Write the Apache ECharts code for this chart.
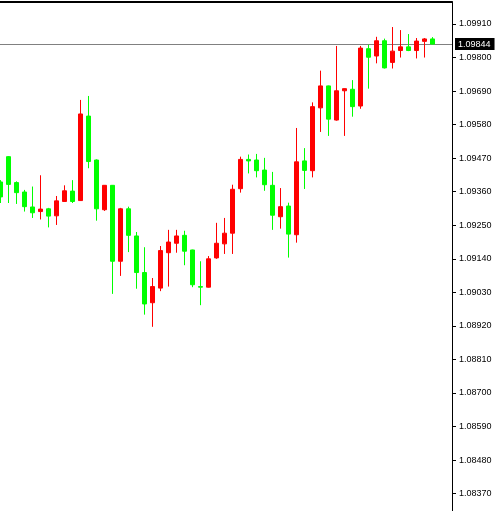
<!DOCTYPE html>
<html>
<head>
<meta charset="utf-8">
<script src="https://cdn.jsdelivr.net/npm/echarts@6/dist/echarts.min.js"></script>
<style>
html,body{margin:0;padding:0;background:#fff;}
#chart{width:500px;height:511px;}
</style>
</head>
<body>
<div id="chart"></div>
<script>
// bar slots (one per candle)
var categories = [];
for (var i = 0; i < 55; i++) categories.push(i);

var openValues = [1.09392, 1.09475, 1.09390, 1.09359, 1.09310, 1.09295, 1.09304, 1.09281, 1.09328, 1.09362,
  1.09331, 1.09608, 1.09464, 1.09301, 1.09381, 1.09132, 1.09304, 1.09215, 1.09095, 1.08996,
  1.09044, 1.09160, 1.09191, 1.09217, 1.09169, 1.09049, 1.09047, 1.09143, 1.09189, 1.09224,
  1.09370, 1.09466, 1.09464, 1.09431, 1.09381, 1.09278, 1.09313, 1.09219, 1.09461, 1.09429,
  1.09635, 1.09707, 1.09595, 1.09691, 1.09696, 1.09641, 1.09829, 1.09805, 1.09855, 1.09784,
  1.09823, 1.09835, 1.09823, 1.09853, 1.09861];

var closeValues = [1.09343, 1.09384, 1.09357, 1.09311, 1.09291, 1.09303, 1.09280, 1.09330, 1.09363, 1.09328,
  1.09615, 1.09459, 1.09304, 1.09381, 1.09132, 1.09304, 1.09217, 1.09095, 1.08992, 1.09049,
  1.09167, 1.09195, 1.09215, 1.09165, 1.09055, 1.09047, 1.09140, 1.09191, 1.09224, 1.09368,
  1.09466, 1.09461, 1.09429, 1.09383, 1.09283, 1.09311, 1.09221, 1.09458, 1.09430, 1.09639,
  1.09707, 1.09598, 1.09691, 1.09698, 1.09639, 1.09831, 1.09801, 1.09855, 1.09766, 1.09821,
  1.09835, 1.09823, 1.09854, 1.09861, 1.09844];

var lowValues = [1.09323, 1.09323, 1.09320, 1.09295, 1.09274, 1.09269, 1.09243, 1.09251, 1.09327, 1.09323,
  1.09330, 1.09437, 1.09265, 1.09297, 1.09025, 1.09084, 1.09162, 1.09042, 1.08957, 1.08917,
  1.09034, 1.09049, 1.09160, 1.09119, 1.09047, 1.08988, 1.09046, 1.09140, 1.09156, 1.09156,
  1.09357, 1.09420, 1.09407, 1.09363, 1.09235, 1.09239, 1.09144, 1.09193, 1.09369, 1.09407,
  1.09556, 1.09543, 1.09593, 1.09543, 1.09606, 1.09632, 1.09698, 1.09781, 1.09764, 1.09764,
  1.09800, 1.09821, 1.09797, 1.09800, 1.09843];

var highValues = [1.09398, 1.09477, 1.09394, 1.09366, 1.09377, 1.09414, 1.09307, 1.09346, 1.09381, 1.09398,
  1.09661, 1.09674, 1.09466, 1.09382, 1.09382, 1.09307, 1.09311, 1.09228, 1.09178, 1.09077,
  1.09182, 1.09235, 1.09235, 1.09232, 1.09170, 1.09132, 1.09149, 1.09258, 1.09274, 1.09383,
  1.09475, 1.09482, 1.09484, 1.09471, 1.09425, 1.09372, 1.09324, 1.09569, 1.09503, 1.09653,
  1.09757, 1.09708, 1.09838, 1.09699, 1.09726, 1.09838, 1.09842, 1.09868, 1.09862, 1.09900,
  1.09890, 1.09877, 1.09864, 1.09864, 1.09867];

var tickLabels = [1.08370, 1.08480, 1.08590, 1.08700, 1.08810, 1.08920, 1.09030,
  1.09140, 1.09250, 1.09360, 1.09470, 1.09580, 1.09690, 1.09800, 1.09910];

var lastPrice = 1.09844;

var ohlc = categories.map(function (c, i) {
  return [c, openValues[i], closeValues[i], lowValues[i], highValues[i]];
});

var yMin = 1.083131, yMax = 1.099821;
var fmt = function (v) { return Number(v).toFixed(5); };

var chart = echarts.init(document.getElementById('chart'), null, {renderer: 'canvas'});
chart.setOption({
  animation: false,
  backgroundColor: '#ffffff',
  grid: {left: 0, right: 48, top: 2, bottom: 0, outerBoundsMode: 'none'},
  xAxis: {
    type: 'value',
    min: -0.05,
    max: 56.45,
    position: 'top',
    axisLine: {show: true, onZero: false, lineStyle: {color: '#000000', width: 2}},
    axisTick: {show: false},
    axisLabel: {show: false},
    splitLine: {show: false}
  },
  yAxis: [{
    type: 'value',
    position: 'right',
    min: yMin,
    max: yMax,
    axisLine: {show: true, onZero: false, lineStyle: {color: '#000000', width: 1}},
    axisTick: {show: true, inside: false, length: 4, customValues: tickLabels, lineStyle: {color: '#000000'}},
    axisLabel: {
      show: true,
      customValues: tickLabels,
      margin: 7,
      color: '#000000',
      fontFamily: 'Liberation Sans',
      fontSize: 9,
      formatter: fmt
    },
    splitLine: {show: false}
  }, {
    // current price line and its tag on the price scale
    type: 'value',
    position: 'right',
    min: yMin,
    max: yMax,
    axisLine: {show: false, onZero: false},
    axisTick: {show: true, inside: true, length: 452, customValues: [lastPrice], lineStyle: {color: '#808080', width: 1}},
    axisLabel: {
      show: true,
      customValues: [lastPrice],
      margin: 3,
      color: '#ffffff',
      backgroundColor: '#000000',
      padding: [2, 4, 1, 3],
      fontFamily: 'Liberation Sans',
      fontSize: 9,
      formatter: fmt
    },
    splitLine: {show: false}
  }],
  series: [{
    type: 'candlestick',
    yAxisIndex: 0,
    data: ohlc,
    barWidth: 5,
    z: 3,
    itemStyle: {
      color: '#ff0000',
      color0: '#00ff00',
      borderColor: '#ff0000',
      borderColor0: '#00ff00',
      borderWidth: 1
    }
  }]
});
</script>
</body>
</html>
